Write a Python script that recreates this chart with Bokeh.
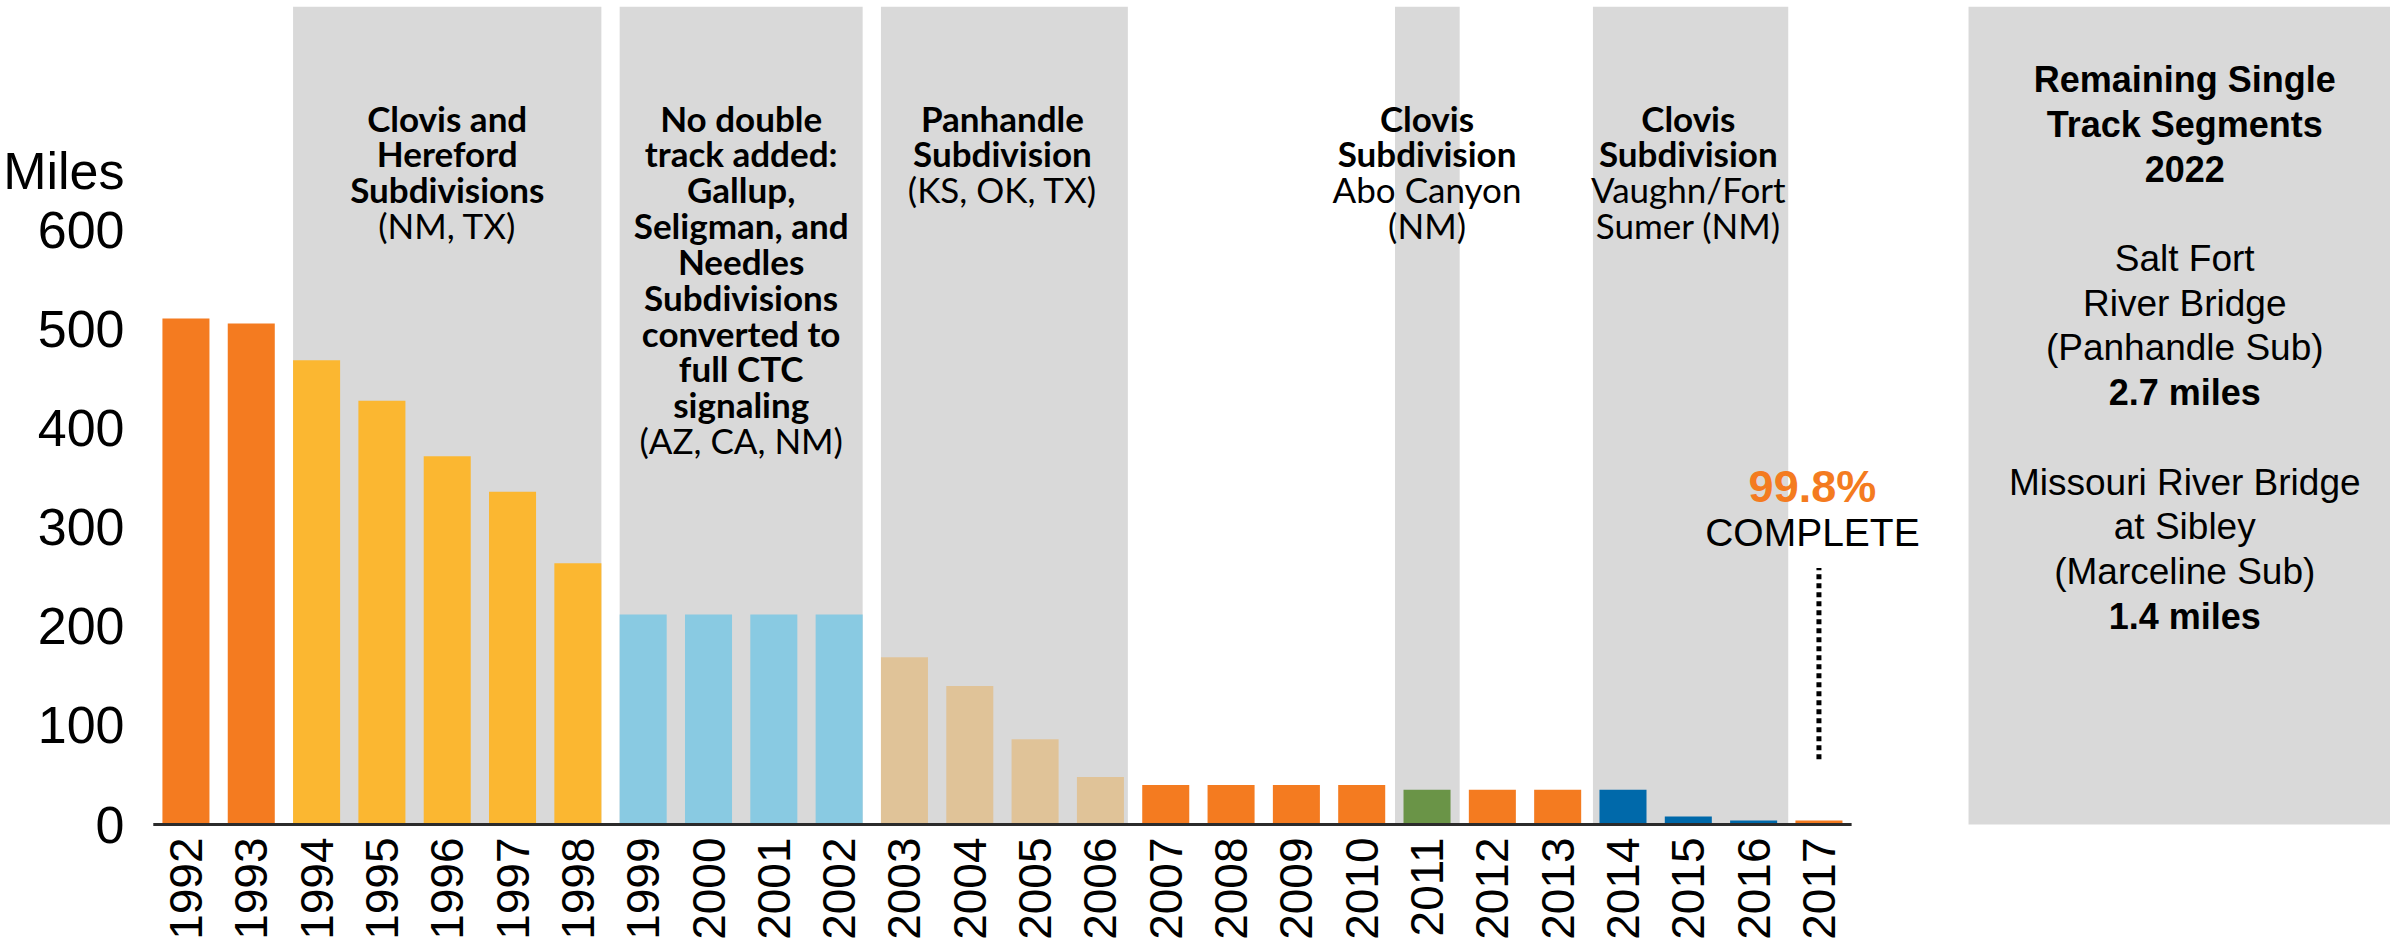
import math
from bokeh.plotting import figure
from bokeh.models import ColumnDataSource, Range1d, FixedTicker
from bokeh.core.properties import value
from bokeh.transform import factor_cmap
from bokeh.embed import file_html
from bokeh.resources import INLINE

# ---------------- data ----------------
years = ["1992", "1993", "1994", "1995", "1996", "1997", "1998", "1999", "2000",
         "2001", "2002", "2003", "2004", "2005", "2006", "2007", "2008", "2009",
         "2010", "2011", "2012", "2013", "2014", "2015", "2016", "2017"]
miles = [511, 506, 469, 428, 372, 336, 264, 212, 212, 212, 212, 169, 140, 86, 48,
         40, 40, 40, 40, 35, 35, 35, 35, 8, 4, 4]
project = ["Other", "Other",
           "Clovis/Hereford", "Clovis/Hereford", "Clovis/Hereford", "Clovis/Hereford", "Clovis/Hereford",
           "CTC", "CTC", "CTC", "CTC",
           "Panhandle", "Panhandle", "Panhandle", "Panhandle",
           "Other", "Other", "Other", "Other",
           "Abo Canyon",
           "Other", "Other",
           "Vaughn/Fort Sumer", "Vaughn/Fort Sumer", "Vaughn/Fort Sumer",
           "Other"]
y_ticks = [0, 100, 200, 300, 400, 500, 600]
y_unit = "Miles"

band_first = ["1994", "1999", "2003", "2011", "2014"]
band_last = ["1998", "2002", "2006", "2011", "2016"]
band_bold = [["Clovis and", "Hereford", "Subdivisions"],
             ["No double", "track added:", "Gallup,", "Seligman, and", "Needles",
              "Subdivisions", "converted to", "full CTC", "signaling"],
             ["Panhandle", "Subdivision"],
             ["Clovis", "Subdivision"],
             ["Clovis", "Subdivision"]]
band_plain = [["(NM, TX)"], ["(AZ, CA, NM)"], ["(KS, OK, TX)"],
              ["Abo Canyon", "(NM)"], ["Vaughn/Fort", "Sumer (NM)"]]

remaining_title = ["Remaining Single", "Track Segments", "2022"]
remaining_names = [["Salt Fort", "River Bridge", "(Panhandle Sub)"],
                   ["Missouri River Bridge", "at Sibley", "(Marceline Sub)"]]
remaining_miles = ["2.7", "1.4"]
complete_pct = "99.8%"

# ---------------- styles / layout ----------------
palette_map = {"Other": "#F47B20", "Clovis/Hereford": "#FBB731", "CTC": "#89CAE2",
               "Panhandle": "#E0C398", "Abo Canyon": "#6A9447",
               "Vaughn/Fort Sumer": "#0069AA"}
band_pad_left = [0.36, 0.36, 0.36, 0.49, 0.46]
band_pad_right = [0.36, 0.36, 0.42, 0.5, 0.53]
GRAY = "#D9D9D9"
BAND_TOP = 826
NARROW = value("Lato")
SANS = value("Liberation Sans")
UNIT_TICK = 660

idx = {y: i for i, y in enumerate(years)}
xs = list(range(len(years)))

p = figure(width=2390, height=945, output_backend="svg", toolbar_location=None,
           x_range=Range1d(-0.512, 33.75), y_range=Range1d(-3.03, 832.3),
           min_border_left=149, min_border_right=0, min_border_top=0,
           min_border_bottom=118)
p.outline_line_color = None
p.xgrid.visible = False
p.ygrid.visible = False
p.background_fill_color = "white"
p.border_fill_color = "white"

# gray bands
bl = [idx[f] - pl for f, pl in zip(band_first, band_pad_left)]
br = [idx[l] + pr for l, pr in zip(band_last, band_pad_right)]
p.quad(left=bl, right=br, bottom=0, top=BAND_TOP, fill_color=GRAY, line_color=None)
# right panel
p.quad(left=[27.29], right=[40], bottom=[0], top=[BAND_TOP], fill_color=GRAY, line_color=None)

# bars
src = ColumnDataSource(dict(x=xs, miles=miles, project=project))
factors = list(palette_map.keys())
p.vbar(x="x", top="miles", bottom=0, width=0.72, source=src, line_color=None,
       fill_color=factor_cmap("project", [palette_map[f] for f in factors], factors))

# baseline
p.segment(x0=[-0.5], y0=[0], x1=[len(years) - 0.5], y1=[0], line_width=3, line_color="#2b2b2b")

# band texts
ROW0 = 714.0
STEP = 36.2
tb = dict(x=[], y=[], text=[])
tn = dict(x=[], y=[], text=[])
for f, l, bold, plain in zip(band_first, band_last, band_bold, band_plain):
    cx = (idx[f] + idx[l]) / 2
    k = 0
    for line in bold:
        tb["x"].append(cx); tb["y"].append(ROW0 - k * STEP); tb["text"].append(line); k += 1
    for line in plain:
        tn["x"].append(cx); tn["y"].append(ROW0 - k * STEP); tn["text"].append(line); k += 1
p.text(x="x", y="y", text="text", source=ColumnDataSource(tb), text_font=NARROW,
       text_font_style="bold", text_font_size="35px", text_align="center",
       text_baseline="middle", text_color="black")
p.text(x="x", y="y", text="text", source=ColumnDataSource(tn), text_font=NARROW,
       text_font_size="35px", text_align="center", text_baseline="middle",
       text_color="black")

# right panel texts
PX = 30.6
R0 = 752.5
RSTEP = 45.2
rb = dict(x=[], y=[], text=[])
rn = dict(x=[], y=[], text=[])
for k, line in enumerate(remaining_title):
    rb["x"].append(PX); rb["y"].append(R0 - k * RSTEP); rb["text"].append(line)
for j, (names, m) in enumerate(zip(remaining_names, remaining_miles)):
    base = 4 + j * 5
    for k, line in enumerate(names):
        rn["x"].append(PX); rn["y"].append(R0 - (base + k) * RSTEP); rn["text"].append(line)
    rb["x"].append(PX); rb["y"].append(R0 - (base + 3) * RSTEP); rb["text"].append(m + " miles")
p.text(x="x", y="y", text="text", source=ColumnDataSource(rb), text_font=SANS,
       text_font_style="bold", text_font_size="36px", text_align="center",
       text_baseline="middle", text_color="black")
p.text(x="x", y="y", text="text", source=ColumnDataSource(rn), text_font=SANS,
       text_font_size="37px", text_align="center", text_baseline="middle",
       text_color="black")

# 99.8% COMPLETE
x17 = idx["2017"]
p.text(x=[x17 - 0.1], y=[341], text=[complete_pct], text_font=SANS, text_font_style="bold",
       text_font_size="45px", text_color="#F47B20", text_align="center",
       text_baseline="middle")
p.text(x=[x17 - 0.1], y=[295], text=["COMPLETE"], text_font=SANS,
       text_font_size="39px", text_color="black", text_align="center",
       text_baseline="middle")
p.segment(x0=[x17], y0=[66], x1=[x17], y1=[259], line_width=5, line_color="black",
          line_dash="5 4")

# axes
p.xaxis.ticker = FixedTicker(ticks=xs)
p.xaxis.major_label_overrides = {i: y for i, y in enumerate(years)}
p.xaxis.major_label_orientation = math.pi / 2
p.xaxis.major_label_text_font = "Liberation Sans"
p.xaxis.major_label_text_font_size = "46px"
p.xaxis.major_label_text_color = "black"
p.xaxis.major_label_standoff = 10
p.xaxis.axis_line_color = None
p.xaxis.major_tick_line_color = None
p.xaxis.minor_tick_line_color = None
p.xaxis.major_tick_out = 0

p.yaxis.ticker = FixedTicker(ticks=y_ticks + [UNIT_TICK])
p.yaxis.major_label_overrides = {UNIT_TICK: y_unit}
p.yaxis.major_label_text_font = "Liberation Sans"
p.yaxis.major_label_text_font_size = "52px"
p.yaxis.major_label_text_color = "black"
p.yaxis.major_label_standoff = 28
p.yaxis.axis_line_color = None
p.yaxis.major_tick_line_color = None
p.yaxis.minor_tick_line_color = None
p.yaxis.major_tick_out = 0

open("out.html", "w").write(file_html(p, INLINE))
